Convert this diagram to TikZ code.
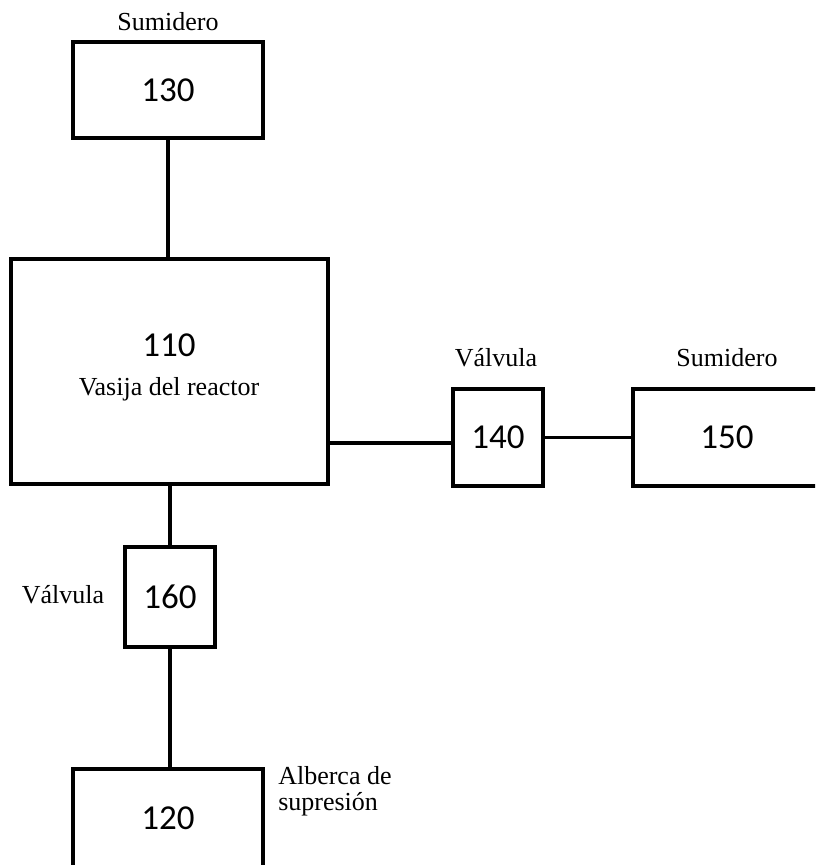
\documentclass[tikz,border=0pt]{standalone}
\usepackage{fontspec}
\setmainfont{Liberation Serif}
\newfontfamily\numfont{Carlito}
\usepackage{tikz}
\usetikzlibrary{positioning}

\begin{document}
\begin{tikzpicture}[x=0.75pt,y=-0.75pt,
	box/.style={draw,line width=2.6pt,inner sep=0pt,font=\numfont\fontsize{26.25}{30}\selectfont},
	lbl/.style={inner sep=0pt,font=\fontsize{19.5}{19.5}\selectfont},
	pipe/.style={line width=2.6pt}]
	\useasboundingbox (0,0) rectangle (815,865);
	\clip (0,0) rectangle (815,865);
	
	% blocks
	\node[box,minimum width=190*0.75pt,minimum height=96*0.75pt] (n130) at (168,90) {130};
	\node[box,minimum width=317*0.75pt,minimum height=225*0.75pt] (n110) at (169.5,371.5) {};
	\node[box,minimum width=90*0.75pt,minimum height=97*0.75pt] (n140) at (498,437.5) {140};
	\node[box,minimum width=188*0.75pt,minimum height=97*0.75pt] (n150) at (727,437.5) {150};
	\node[box,minimum width=90*0.75pt,minimum height=100*0.75pt] (n160) at (170,597) {160};
	\node[box,minimum width=190*0.75pt,minimum height=98*0.75pt] (n120) at (168,818) {120};
	
	% text in the vessel
	\node[inner sep=0pt,font=\numfont\fontsize{26.25}{30}\selectfont] (t110) at (169,345) {110};
	\node[lbl] (t110b) at (169,389) {Vasija del reactor};
	
	% labels
	\node[lbl] (l130) at (168,22) {Sumidero};
	\node[lbl] (l140) at (496,358) {Válvula};
	\node[lbl] (l150) at (727,358) {Sumidero};
	\node[lbl] (l160) at (63,595) {Válvula};
	\node[lbl,anchor=west,align=left] (l120) at (278,791) {Alberca de\\supresión};
	
	% pipes
	\draw[pipe] (n130.south) -- (n130.south |- n110.north);
	\draw[pipe] ([yshift=-4pt]n140.west) -- ([yshift=-4pt]n140.west -| n110.east);
	\draw[pipe] (n140.east) -- (n150.west);
	\draw[pipe] (n160.north) -- (n160.north |- n110.south);
	\draw[pipe] (n160.south) -- (n120.north -| n160.south);
\end{tikzpicture}
\end{document}
